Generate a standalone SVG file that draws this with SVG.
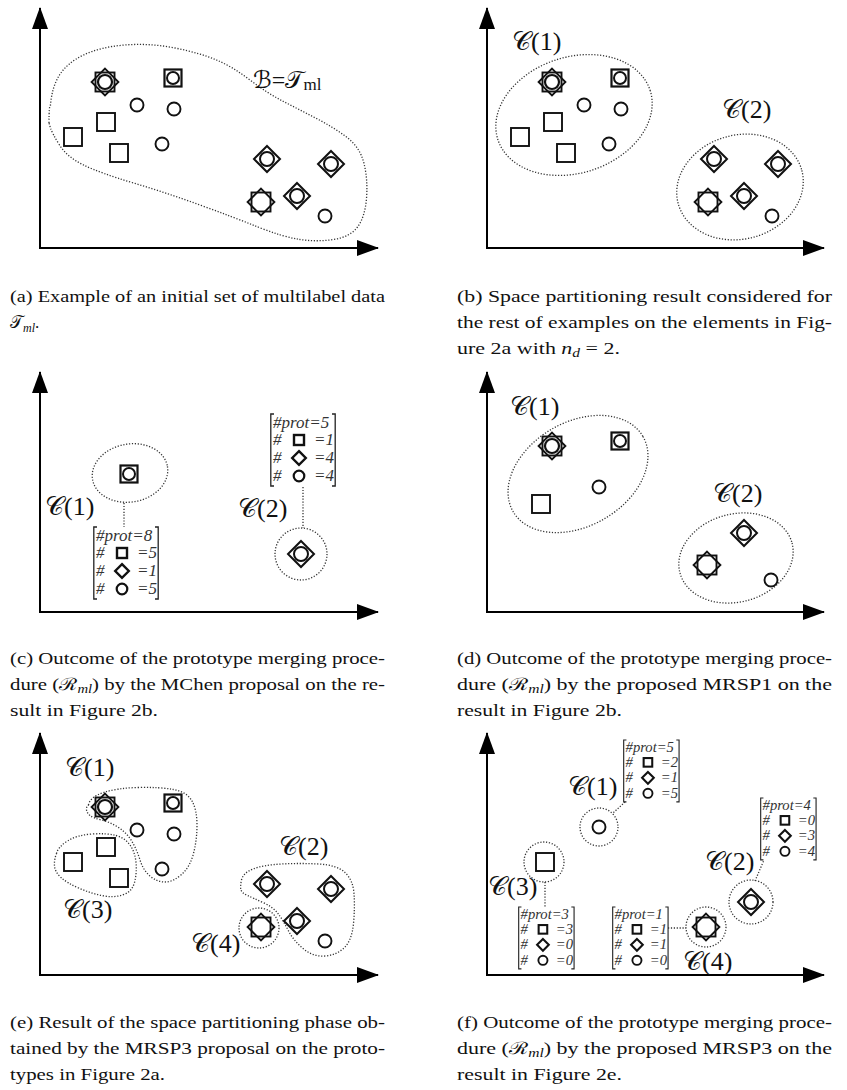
<svg xmlns="http://www.w3.org/2000/svg" xmlns:xlink="http://www.w3.org/1999/xlink" width="847" height="1090" viewBox="0 0 847 1090">
<style>
.ax{fill:none;stroke:#000;stroke-width:2;marker-start:url(#arr);marker-end:url(#arr)}
.dot{fill:none;stroke:#333;stroke-width:1.3;stroke-dasharray:1.2 1.7}
.s{fill:none;stroke:#111;stroke-width:1.9}
.m{fill:none;stroke:#111;stroke-width:2.4}
.lab{font-family:"Liberation Serif","DejaVu Serif","DejaVu Sans",serif;font-size:26px;fill:#111}
.mx{font-family:"Liberation Serif",serif;font-style:italic;font-size:17px;fill:#333}
.brk{fill:none;stroke:#222;stroke-width:1.3}
.cap{font-family:"Liberation Serif","DejaVu Serif",serif;font-size:17px;fill:#111}
</style>
<defs>
<marker id="arr" viewBox="0 0 22 16" refX="21" refY="8" markerWidth="22" markerHeight="16" markerUnits="userSpaceOnUse" orient="auto-start-reverse"><path d="M0,0 L22,8 L0,16 Z" fill="#000"/></marker>
<circle id="circ" r="6.5" class="s"/>
<rect id="sq" x="-9" y="-9" width="18" height="18" class="s"/>
<g id="sqc"><rect x="-8.5" y="-8.5" width="17" height="17" class="s" style="stroke-width:2.2"/><circle r="6" class="s" style="stroke-width:2"/></g>
<g id="dc"><path d="M0,-13 L13,0 L0,13 L-13,0Z" class="s" style="stroke-width:2"/><circle r="7" class="s" style="stroke-width:2"/></g>
<g id="oct"><rect x="-9.5" y="-9.5" width="19" height="19" class="s"/><path d="M0,-13.4 L13.4,0 L0,13.4 L-13.4,0Z" class="s"/></g>
<g id="star"><use href="#oct"/><circle r="7" class="s" style="stroke-width:2.2"/></g>
<rect id="msq" x="-5" y="-5" width="10" height="10" class="m"/>
<path id="mdia" d="M0,-6.8 L6.8,0 L0,6.8 L-6.8,0Z" class="m"/>
<circle id="mci" r="5.3" class="m" style="stroke-width:2.2"/>
<g id="mbr"><path class="brk" d="M4,0 H0.8 V72 H4"/><path class="brk" d="M62,0 H65.2 V72 H62"/></g>
</defs>

<g id="axes">
<path class="ax" d="M40,8 V248 H378"/>
<path class="ax" d="M487,8 V248 H824"/>
<path class="ax" d="M40,372 V612 H378"/>
<path class="ax" d="M487,372 V612 H824"/>
<path class="ax" d="M40,733 V975 H378"/>
<path class="ax" d="M487,733 V975 H824"/>
</g>

<!-- Panel a -->
<g id="panel-a">
<g id="a-region"><path class="dot" d="M49,123 Q49,105 50.5,105 Q52,87 59.5,75 Q67,63 83.5,55 Q100,47 125,45 Q150,43 175,48 Q200,53 216.5,60 Q233,67 250,80 Q267,93 283.5,101.5 Q300,110 316.5,118.5 Q333,127 346.5,137 Q360,147 364,163.5 Q368,180 366.5,198.5 Q365,217 357.5,227 Q350,237 333.5,239.5 Q317,242 300,239.5 Q283,237 258,227 Q233,217 200,205 Q167,193 133.5,183 Q100,173 83.5,165 Q67,157 59.5,145 Q52,133 50.5,128 Q49,123 49,123Z"/>
<text class="lab" x="253" y="88" style="font-size:24px">ℬ=𝒯<tspan style="font-size:17px" dy="2">ml</tspan></text></g>
<g id="a-pts">
<use href="#star" x="105" y="82"/><use href="#sqc" x="173" y="78"/>
<use href="#circ" x="137" y="105"/><use href="#circ" x="174" y="109"/><use href="#circ" x="162" y="144"/>
<use href="#sq" x="106" y="122"/><use href="#sq" x="73" y="137"/><use href="#sq" x="119" y="153"/>
<use href="#dc" x="267" y="159"/><use href="#dc" x="331" y="164"/><use href="#dc" x="297" y="196"/>
<use href="#oct" x="261" y="202"/><use href="#circ" x="325" y="216"/>
</g>
</g>

<!-- Panel b -->
<g id="panel-b">
<g id="b-c1"><ellipse class="dot" cx="574" cy="115" rx="80" ry="58" transform="rotate(-18 574 115)"/><text class="lab" x="512" y="50">𝒞(1)</text></g>
<g id="b-c2"><ellipse class="dot" cx="740" cy="187" rx="64" ry="52" transform="rotate(-15 740 187)"/><text class="lab" x="722" y="118">𝒞(2)</text></g>
<g id="b-pts" transform="translate(447,0)">
<use href="#star" x="105" y="82"/><use href="#sqc" x="173" y="78"/>
<use href="#circ" x="137" y="105"/><use href="#circ" x="174" y="109"/><use href="#circ" x="162" y="144"/>
<use href="#sq" x="106" y="122"/><use href="#sq" x="73" y="137"/><use href="#sq" x="119" y="153"/>
<use href="#dc" x="267" y="159"/><use href="#dc" x="331" y="164"/><use href="#dc" x="297" y="196"/>
<use href="#oct" x="261" y="202"/><use href="#circ" x="325" y="216"/>
</g>
</g>

<!-- Panel c -->
<g id="panel-c">
<g id="c-c1"><ellipse class="dot" cx="130" cy="473" rx="38" ry="29" transform="rotate(-10 130 473)"/><use href="#sqc" x="129" y="474"/><text class="lab" x="45" y="515">𝒞(1)</text></g>
<g id="c-m1" transform="translate(93,527)"><use href="#mbr"/>
<text class="mx" x="3" y="14">#prot=8</text>
<text class="mx" x="3" y="31">#</text><use href="#msq" x="29" y="26"/><text class="mx" x="44" y="31">=5</text>
<text class="mx" x="3" y="49">#</text><use href="#mdia" x="29" y="44"/><text class="mx" x="44" y="49">=1</text>
<text class="mx" x="3" y="67">#</text><use href="#mci" x="29" y="62"/><text class="mx" x="44" y="67">=5</text></g>
<g id="c-c2"><circle class="dot" cx="301" cy="554" r="26"/><use href="#dc" x="301" y="554"/><text class="lab" x="238" y="517">𝒞(2)</text></g>
<g id="c-m2" transform="translate(270,414)"><use href="#mbr"/>
<text class="mx" x="3" y="14">#prot=5</text>
<text class="mx" x="3" y="31">#</text><use href="#msq" x="29" y="26"/><text class="mx" x="44" y="31">=1</text>
<text class="mx" x="3" y="49">#</text><use href="#mdia" x="29" y="44"/><text class="mx" x="44" y="49">=4</text>
<text class="mx" x="3" y="67">#</text><use href="#mci" x="29" y="62"/><text class="mx" x="44" y="67">=4</text></g>
</g>

<!-- Panel d -->
<g id="panel-d">
<g id="d-c1"><ellipse class="dot" cx="578" cy="474" rx="75" ry="52" transform="rotate(-30 578 474)"/><text class="lab" x="510" y="415">𝒞(1)</text>
<use href="#star" x="552" y="446"/><use href="#sqc" x="620" y="441"/><use href="#circ" x="599" y="487"/><use href="#sq" x="541" y="504"/></g>
<g id="d-c2"><ellipse class="dot" cx="736" cy="558" rx="58" ry="44" transform="rotate(-15 736 558)"/><text class="lab" x="713" y="502">𝒞(2)</text>
<use href="#dc" x="744" y="533"/><use href="#oct" x="707" y="565"/><use href="#circ" x="771" y="580"/></g>
</g>

<!-- Panel e -->
<g id="panel-e">
<g id="e-c1"><path class="dot" d="M88.5,805 Q90,797 103.5,792.5 Q117,788 138.5,787.5 Q160,787 173.5,789.5 Q187,792 192,801 Q197,810 197,825 Q197,840 193.5,853.5 Q190,867 181.5,874.5 Q173,882 165,882 Q157,882 150,876 Q143,870 140,860 Q137,850 132,841.5 Q127,833 118.5,827.5 Q110,822 101.5,820 Q93,818 90,815.5 Q87,813 86.5,810 Q86,807 88.5,805Z"/><text class="lab" x="65" y="776">𝒞(1)</text></g>
<g id="e-c3"><path class="dot" d="M56.5,853.5 Q58,847 67.5,841 Q77,835 92,834 Q107,833 116,835.5 Q125,838 130,845 Q135,852 136,862.5 Q137,873 134.5,882.5 Q132,892 122.5,895 Q113,898 101.5,895.5 Q90,893 78.5,888 Q67,883 61,877.5 Q55,872 54.5,866 Q54,860 56.5,853.5Z"/><text class="lab" x="63" y="918">𝒞(3)</text></g>
<g id="e-c2"><path class="dot" d="M241.5,880 Q243,873 253,869 Q263,865 281.5,864 Q300,863 318.5,864 Q337,865 345,872.5 Q353,880 354,893.5 Q355,907 353.5,923.5 Q352,940 344.5,947.5 Q337,955 325,956 Q313,957 303,948.5 Q293,940 288,930 Q283,920 278,913.5 Q273,907 263,902.5 Q253,898 247.5,895.5 Q242,893 241,890 Q240,887 241.5,880Z"/><text class="lab" x="279" y="855">𝒞(2)</text></g>
<g id="e-c4"><ellipse class="dot" cx="259" cy="928" rx="20" ry="20"/><text class="lab" x="191" y="952">𝒞(4)</text></g>
<g id="e-pts" transform="translate(0,725)">
<use href="#star" x="105" y="82"/><use href="#sqc" x="173" y="78"/>
<use href="#circ" x="137" y="105"/><use href="#circ" x="174" y="109"/><use href="#circ" x="162" y="144"/>
<use href="#sq" x="106" y="122"/><use href="#sq" x="73" y="137"/><use href="#sq" x="119" y="153"/>
<use href="#dc" x="267" y="159"/><use href="#dc" x="331" y="164"/><use href="#dc" x="297" y="196"/>
<use href="#oct" x="261" y="202"/><use href="#circ" x="325" y="216"/>
</g>
</g>

<!-- Panel f -->
<g id="panel-f">
<g id="f-c1"><circle class="dot" cx="599" cy="827" r="19"/><use href="#circ" x="599" y="827"/><text class="lab" x="568" y="795">𝒞(1)</text></g>
<g id="f-m1" transform="translate(623,740) scale(0.86)"><use href="#mbr"/>
<text class="mx" x="3" y="14">#prot=5</text>
<text class="mx" x="3" y="31">#</text><use href="#msq" x="29" y="26"/><text class="mx" x="44" y="31">=2</text>
<text class="mx" x="3" y="49">#</text><use href="#mdia" x="29" y="44"/><text class="mx" x="44" y="49">=1</text>
<text class="mx" x="3" y="67">#</text><use href="#mci" x="29" y="62"/><text class="mx" x="44" y="67">=5</text></g>
<g id="f-c3"><circle class="dot" cx="544" cy="862" r="20"/><use href="#sq" x="545" y="862"/><text class="lab" x="488" y="895">𝒞(3)</text></g>
<g id="f-m3" transform="translate(518,907) scale(0.86)"><use href="#mbr"/>
<text class="mx" x="3" y="14">#prot=3</text>
<text class="mx" x="3" y="31">#</text><use href="#msq" x="29" y="26"/><text class="mx" x="44" y="31">=3</text>
<text class="mx" x="3" y="49">#</text><use href="#mdia" x="29" y="44"/><text class="mx" x="44" y="49">=0</text>
<text class="mx" x="3" y="67">#</text><use href="#mci" x="29" y="62"/><text class="mx" x="44" y="67">=0</text></g>
<g id="f-c4"><circle class="dot" cx="706" cy="927" r="20"/><use href="#oct" x="706" y="927"/><text class="lab" x="683" y="970">𝒞(4)</text></g>
<g id="f-m4" transform="translate(612,907) scale(0.86)"><use href="#mbr"/>
<text class="mx" x="3" y="14">#prot=1</text>
<text class="mx" x="3" y="31">#</text><use href="#msq" x="29" y="26"/><text class="mx" x="44" y="31">=1</text>
<text class="mx" x="3" y="49">#</text><use href="#mdia" x="29" y="44"/><text class="mx" x="44" y="49">=1</text>
<text class="mx" x="3" y="67">#</text><use href="#mci" x="29" y="62"/><text class="mx" x="44" y="67">=0</text></g>
<g id="f-c2"><circle class="dot" cx="751" cy="902" r="22"/><use href="#dc" x="751" y="902"/><text class="lab" x="705" y="870">𝒞(2)</text></g>
<g id="f-m2" transform="translate(760,798) scale(0.86)"><use href="#mbr"/>
<text class="mx" x="3" y="14">#prot=4</text>
<text class="mx" x="3" y="31">#</text><use href="#msq" x="29" y="26"/><text class="mx" x="44" y="31">=0</text>
<text class="mx" x="3" y="49">#</text><use href="#mdia" x="29" y="44"/><text class="mx" x="44" y="49">=3</text>
<text class="mx" x="3" y="67">#</text><use href="#mci" x="29" y="62"/><text class="mx" x="44" y="67">=4</text></g>
</g>

<g id="connectors">
<path class="dot" d="M124,503 V527"/>
<path class="dot" d="M303,487 V528"/>
<path class="dot" d="M625,802 L613,813"/>
<path class="dot" d="M545,882 V907"/>
<path class="dot" d="M668,928 H686"/>
<path class="dot" d="M755,881 L764,860"/>
</g>

<g id="captions">
<text class="cap" x="10" y="302" textLength="375" lengthAdjust="spacingAndGlyphs">(a) Example of an initial set of multilabel data</text>
<text class="cap" x="10" y="328">𝒯<tspan font-style="italic" font-size="12" dy="4">ml</tspan><tspan dy="-4">.</tspan></text>
<text class="cap" x="457" y="302" textLength="375" lengthAdjust="spacingAndGlyphs">(b) Space partitioning result considered for</text>
<text class="cap" x="457" y="328" textLength="375" lengthAdjust="spacingAndGlyphs">the rest of examples on the elements in Fig-</text>
<text class="cap" x="457" y="354" textLength="163" lengthAdjust="spacingAndGlyphs">ure 2a with <tspan font-style="italic">n</tspan><tspan font-style="italic" font-size="12" dy="3">d</tspan><tspan dy="-3"> = 2.</tspan></text>
<text class="cap" x="10" y="664" textLength="375" lengthAdjust="spacingAndGlyphs">(c) Outcome of the prototype merging proce-</text>
<text class="cap" x="10" y="690" textLength="375" lengthAdjust="spacingAndGlyphs">dure (ℛ<tspan font-style="italic" font-size="12" dy="3">ml</tspan><tspan dy="-3">) by the MChen proposal on the re-</tspan></text>
<text class="cap" x="10" y="716" textLength="148" lengthAdjust="spacingAndGlyphs">sult in Figure 2b.</text>
<text class="cap" x="457" y="664" textLength="375" lengthAdjust="spacingAndGlyphs">(d) Outcome of the prototype merging proce-</text>
<text class="cap" x="457" y="690" textLength="375" lengthAdjust="spacingAndGlyphs">dure (ℛ<tspan font-style="italic" font-size="12" dy="3">ml</tspan><tspan dy="-3">) by the proposed MRSP1 on the</tspan></text>
<text class="cap" x="457" y="716" textLength="165" lengthAdjust="spacingAndGlyphs">result in Figure 2b.</text>
<text class="cap" x="10" y="1028" textLength="375" lengthAdjust="spacingAndGlyphs">(e) Result of the space partitioning phase ob-</text>
<text class="cap" x="10" y="1054" textLength="375" lengthAdjust="spacingAndGlyphs">tained by the MRSP3 proposal on the proto-</text>
<text class="cap" x="10" y="1080" textLength="155" lengthAdjust="spacingAndGlyphs">types in Figure 2a.</text>
<text class="cap" x="457" y="1028" textLength="375" lengthAdjust="spacingAndGlyphs">(f) Outcome of the prototype merging proce-</text>
<text class="cap" x="457" y="1054" textLength="375" lengthAdjust="spacingAndGlyphs">dure (ℛ<tspan font-style="italic" font-size="12" dy="3">ml</tspan><tspan dy="-3">) by the proposed MRSP3 on the</tspan></text>
<text class="cap" x="457" y="1080" textLength="165" lengthAdjust="spacingAndGlyphs">result in Figure 2e.</text>
</g>
</svg>
